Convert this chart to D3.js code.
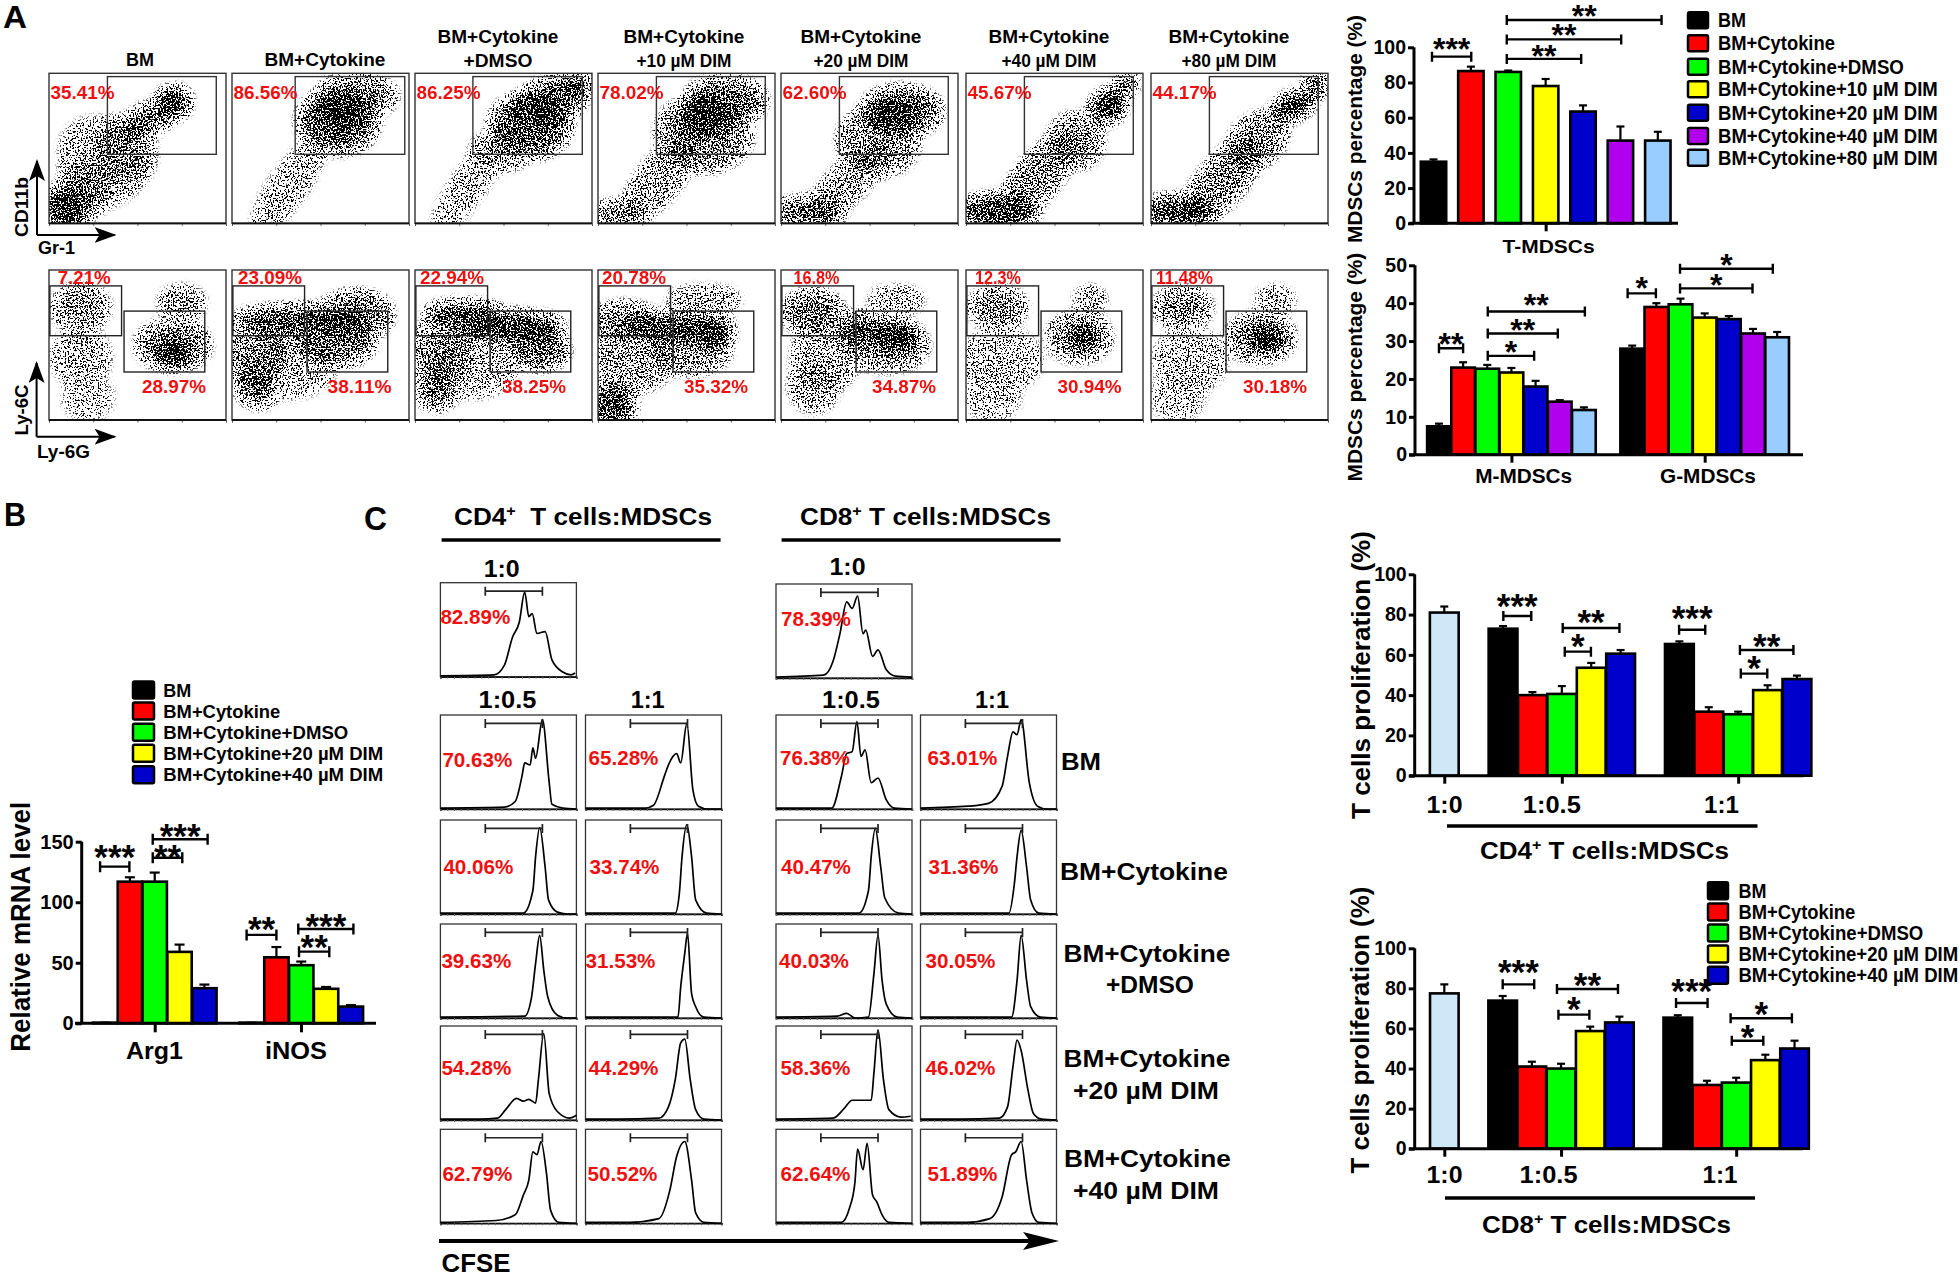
<!DOCTYPE html>
<html><head><meta charset="utf-8">
<script src="https://d3js.org/d3.v7.min.js"></script>
<style>html,body{margin:0;background:#fff}svg{display:block}text{font-family:"Liberation Sans",Arial,sans-serif;font-weight:700}</style>
</head><body><svg id="c" width="1960" height="1276"></svg>
<script>
// ---------- series colours / names ----------
const BLACK="#000000",RED="#ff0000",GREEN="#00ff00",YELLOW="#ffff00",BLUE="#0000cc",PURPLE="#b000ee",SKY="#99ccff",PALE="#cfe8f7";
const legendA=["BM","BM+Cytokine","BM+Cytokine+DMSO","BM+Cytokine+10 µM DIM","BM+Cytokine+20 µM DIM","BM+Cytokine+40 µM DIM","BM+Cytokine+80 µM DIM"];
const legendB=["BM","BM+Cytokine","BM+Cytokine+DMSO","BM+Cytokine+20 µM DIM","BM+Cytokine+40 µM DIM"];
const coloursA=[BLACK,RED,GREEN,YELLOW,BLUE,PURPLE,SKY];
const coloursB=[BLACK,RED,GREEN,YELLOW,BLUE];

// ---------- bar values ----------
const tMean=[35,86.5,86,78,63.5,47,47];
const tTop=[36.3,89,86.8,82,67,55,52];
const mMean=[7.5,23,22.7,21.7,18,14,11.8];
const mTop=[8.2,24.4,23.7,22.9,19.5,14.4,12.5];
const gMean=[28,39,39.7,36.2,35.8,32,31];
const gTop=[28.8,40,41.2,37.3,36.6,33.2,32.4];
const arg1Mean=[0.5,117,117,59,29];
const arg1Top=[0.5,120.6,124.5,65,32];
const inosMean=[0.5,54.5,48,28.5,13.8];
const inosTop=[0.5,63,51,30,15];
const cd4Zero=[81],cd4ZeroTop=[84];
const cd4Half=[73,40,40.6,53.6,60.6],cd4HalfTop=[74.3,41.5,44.5,56,62.4];
const cd4One=[65.4,31.8,30.5,42.5,48],cd4OneTop=[66.7,34,31.8,44.9,49.7];
const cd8Zero=[77.5],cd8ZeroTop=[82];
const cd8Half=[73.9,41,40,58.7,63],cd8HalfTop=[76.2,43.4,42.4,60.9,65.9];
const cd8One=[65.4,31.8,33,44.2,50],cd8OneTop=[66.6,33.9,35.4,46.9,53.9];

// significance brackets: [from bar slot, to bar slot, value height, stars, star lift]
const tSig=[[-0.04,1.01,94.7,"***",11.7],[1.96,3.95,93.4,"**",6.7],[1.96,5.02,104.5,"**",7.7],[1.96,6.1,115.5,"**",7.7]];
const mgSig=[[0,1,28.1,"**",8.3],[2.02,3.94,26.1,"*",8],[2.02,4.92,32,"**",7.7],[2.02,6.04,37.8,"**",10],[7.81,8.98,42.6,"*",9.3],[9.98,12.98,43.9,"*",7.3],[9.98,13.82,49.1,"*",7.7]];
const mrnaSig=[[-0.2,0.98,129.4,"***",14],[1.92,3.11,136.8,"**",5],[1.92,4.13,152,"***",7.7],[5.7,6.9,73,"**",10],[7.81,9.03,59.2,"**",9],[7.78,10,77.9,"***",7.3]];
const cd4Sig=[[2.01,2.96,79.3,"***",14.3],[4.03,5.96,73.3,"**",9.7],[4.1,4.99,61.6,"*",9.3],[7.99,8.88,72.5,"***",15.7],[10.06,11.88,62.4,"**",8.3],[10.09,10.99,50.7,"*",9.3]];
const cd8Sig=[[2,3.08,82,"***",16],[3.86,5.95,79.7,"**",8.3],[3.91,4.97,66.9,"*",9.7],[7.94,9.02,72.7,"***",15.7],[9.81,11.91,65.1,"*",8.3],[9.85,10.93,53.9,"*",7.3]];

// ---------- panel A gate percentages ----------
const flowTitles=[["BM"],["BM+Cytokine"],["BM+Cytokine","+DMSO"],["BM+Cytokine","+10 µM DIM"],["BM+Cytokine","+20 µM DIM"],["BM+Cytokine","+40 µM DIM"],["BM+Cytokine","+80 µM DIM"]];
const tGate=["35.41%","86.56%","86.25%","78.02%","62.60%","45.67%","44.17%"];
const mGate=["7.21%","23.09%","22.94%","20.78%","16.8%","12.3%","11.48%"];
const gGate=["28.97%","38.11%","38.25%","35.32%","34.87%","30.94%","30.18%"];

// Dot-plot clouds: estimated by eye as density regions, NOT individual events.
// [x%, y%, x radius, y radius, tilt, density]. The speckle is a visual texture over these.
const cloudsTop=[
 [[10,10,13,14,0,.85],[22,25,14,18,-40,.42],[42,48,16,22,-30,.42],[55,68,14,9,-25,.62],[70,80,9,9,-30,.95],[30,42,22,30,-45,.22]],
 [[60,68,22,20,0,.62],[62,72,12,12,0,.85],[70,85,22,12,0,.55],[32,25,32,11,-55,.26]],
 [[65,65,22,20,0,.65],[75,80,22,14,-20,.65],[90,92,9,7,0,.65],[30,25,30,10,-55,.26],[48,48,16,12,0,.32]],
 [[60,70,14,12,0,.85],[72,82,22,14,0,.6],[60,60,26,24,0,.5],[12,6,16,7,0,.55],[35,30,28,13,-50,.36]],
 [[63,72,13,10,0,.85],[68,75,22,15,0,.6],[55,55,22,22,0,.42],[15,7,20,9,0,.6],[38,28,32,11,-45,.4]],
 [[80,78,10,9,-40,.95],[90,92,6,5,-40,.8],[62,55,14,17,-40,.45],[18,8,22,10,0,.8],[40,30,32,13,-50,.48]],
 [[80,78,12,7,-25,.95],[93,92,6,6,-40,.8],[60,55,18,15,-40,.45],[15,8,20,9,0,.8],[40,28,30,14,-50,.48]]];
const cloudsBottom=[
 [[70,45,9,9,0,1],[70,50,20,15,0,.5],[75,78,12,10,0,.38],[18,75,15,14,0,.42],[18,42,16,18,0,.26],[22,15,14,15,0,.16]],
 [[40,67,38,8,0,.72],[58,52,22,15,0,.55],[70,70,20,15,0,.5],[15,45,18,20,0,.42],[13,22,9,14,-50,.65],[32,38,26,22,0,.26]],
 [[28,70,22,8,0,.72],[55,62,28,9,0,.8],[70,47,16,12,0,.6],[15,45,18,20,0,.42],[12,20,10,12,-50,.6],[32,38,26,22,0,.26]],
 [[15,65,18,12,0,.52],[45,62,30,9,0,.72],[65,58,10,9,0,.85],[52,47,22,15,0,.45],[20,40,22,20,0,.36],[8,10,12,14,-50,.75],[60,80,20,8,0,.32]],
 [[18,72,16,13,0,.55],[45,60,14,10,0,.68],[66,55,11,10,0,.85],[60,50,22,16,0,.45],[25,42,18,22,0,.3],[18,22,12,16,-30,.34],[65,80,15,8,0,.28]],
 [[18,75,15,12,0,.5],[66,55,7,7,0,1],[64,55,17,15,0,.45],[70,80,8,8,0,.3],[20,40,22,20,0,.24],[15,15,15,15,0,.18]],
 [[18,75,15,12,0,.5],[65,55,8,8,0,1],[62,55,18,15,0,.5],[70,80,10,8,0,.3],[22,40,20,20,0,.24],[15,15,15,15,0,.16]]];

// ---------- panel C histograms: [x%, y%] outlines ----------
const h10cd4=[[0,1],[39.5,2],[47,12],[53,42],[58,58],[62,90],[65,64],[67.5,67],[71,46],[77,48],[82,18],[90,5],[96,2],[99,4]];
const h10cd8=[[0,1],[35,3],[42,18],[47,47],[52,81],[56,74],[60,87],[64,47],[66,51],[71,23],[75,30],[81,9],[88,2],[100,1]];
const hBM=[
 [[0,1],[47,2],[55,8],[60,35],[62,49],[66,47],[68,65],[70,54],[75,95],[80,28],[82,5],[90,1],[100,0]],
 [[0,1],[44,1],[50,4],[58,35],[61,47],[67,59],[70,49],[74.5,91],[79,20],[83,3],[90,0],[100,0]],
 [[0,1],[41,1],[48,34],[52,59],[56,61],[59.5,93],[62.5,56],[65.5,63],[70,28],[75,33],[81,10],[87,1],[100,0]],
 [[0,1],[35,3],[50,6],[60,24],[64,56],[68,82],[71,79],[74,95],[80,28],[86,3],[93,0],[100,0]]];
const hCyt=[
 [[0,1],[61,1],[68,25],[70,61],[73,92],[77,50],[79.5,15],[86,2],[93,0],[100,0]],
 [[0,1],[66,1],[69,22],[71,61],[74.5,95],[78,61],[81,15],[89,1],[100,0]],
 [[0,1],[61,1],[68,25],[70,61],[73,91],[77,50],[80,17],[90,1],[100,0]],
 [[0,1],[65,1],[69,32],[71,61],[74,89],[78,50],[81,15],[87,1],[100,0]]];
const hDmso=[
 [[0,1],[62,2],[67,22],[70,58],[73,88],[76,51],[79,22],[86,3],[93,0],[100,0]],
 [[0,1],[68,1],[70,33],[73,69],[75,90],[78,26],[81,12],[87,1],[100,0]],
 [[0,1],[45,2],[52,5],[58,0],[68,1],[72,47],[75,88],[78,40],[81,15],[89,1],[100,0]],
 [[0,1],[67,1],[71,40],[74,88],[78,40],[81,12],[88,1],[100,0]]];
const hDim20=[
 [[0,1],[29,1],[42,2],[48,11],[56,23],[61,20],[65,22],[70,18],[72,42],[76,92],[80,28],[86,9],[95,2],[100,5]],
 [[0,1],[23,1],[54,2],[61,14],[66,43],[70,82],[73,86],[77,43],[81,11],[87,1],[100,0]],
 [[0,1],[42,2],[50,12],[56,21],[65,21],[70,21],[72,50],[75,96],[79,43],[83,11],[92,3],[99,4]],
 [[0,1],[29,1],[58,2],[64,14],[68,57],[71,85],[74,74],[79,32],[83,7],[89,1],[100,0]]];
const hDim40=[
 [[0,1],[41,3],[55,9],[61,30],[65,46],[68,76],[71,73],[74,87],[78,53],[81,14],[87,1],[100,0]],
 [[0,1],[32,1],[54,5],[62,35],[67,71],[73,87],[78,46],[81,11],[87,1],[100,0]],
 [[0,1],[48,1],[54,16],[58,43],[60,79],[64,57],[67,85],[71,30],[74,23],[78,9],[83,1],[100,0]],
 [[0,1],[34,1],[51,5],[60,28],[67,73],[70,76],[74,87],[78,46],[82,11],[87,1],[100,0]]];
const pct10=["82.89%","78.39%"];
const pctBM=["70.63%","65.28%","76.38%","63.01%"];
const pctCyt=["40.06%","33.74%","40.47%","31.36%"];
const pctDmso=["39.63%","31.53%","40.03%","30.05%"];
const pctDim20=["54.28%","44.29%","58.36%","46.02%"];
const pctDim40=["62.79%","50.52%","62.64%","51.89%"];

// ---------- helpers ----------
const svg=d3.select("#c");
const defs=svg.append("defs");
function T(parent,x,y,str,o={}){
  const g=parent.append("g").attr("transform",`translate(${x},${y})${o.rotate?` rotate(${o.rotate})`:""}`);
  const size=o.size||18;
  const t=g.append("text").attr("font-size",size).attr("fill",o.fill||"#000").attr("text-anchor","start");
  if(Array.isArray(str)){
    str.forEach((p,i)=>{
      if(typeof p==="object"){t.append("tspan").attr("font-size",size*.62).attr("dy",-size*.36).text(p.s);}
      else{t.append("tspan").attr("dy",i?size*.36:0).style("white-space","pre").text(p);}
    });
  } else t.text(str);
  const len=t.node().getComputedTextLength();
  const s=o.w?o.w/len:1, anchor=o.anchor||"start";
  const dx=anchor==="middle"?-len*s/2:anchor==="end"?-len*s:0;
  t.attr("transform",`translate(${dx},0) scale(${s},1)`);
  return t;
}
function legend(items,colors,x0,textX,ys,w,h,widths,size){
  const g=svg.append("g");
  g.selectAll("rect").data(items).join("rect").attr("x",x0).attr("y",(d,i)=>ys[i]-h/2).attr("width",w).attr("height",h)
    .attr("rx",1.5).attr("fill",(d,i)=>colors[i]).attr("stroke","#000").attr("stroke-width",2.5);
  items.forEach((d,i)=>T(g,textX,ys[i]+size*.36,d,{size,w:widths[i]}));
}
function barChart(cfg){
  const g=svg.append("g");
  const x=d3.scaleLinear().domain(cfg.slots).range(cfg.xr);
  const y=d3.scaleLinear().domain(cfg.yd).range(cfg.yr);
  const step=x(1)-x(0), bw=step*cfg.bw;
  const capW=cfg.cap||8;
  const bars=cfg.bars;
  g.selectAll(".eb").data(bars).join("line").attr("x1",d=>x(d.slot)).attr("x2",d=>x(d.slot))
    .attr("y1",d=>y(d.value)).attr("y2",d=>y(d.top)).attr("stroke","#000").attr("stroke-width",2.2);
  g.selectAll(".cap").data(bars).join("line").attr("x1",d=>x(d.slot)-capW/2).attr("x2",d=>x(d.slot)+capW/2)
    .attr("y1",d=>y(d.top)).attr("y2",d=>y(d.top)).attr("stroke","#000").attr("stroke-width",2.2);
  g.selectAll(".bar").data(bars).join("rect").attr("x",d=>x(d.slot)-bw/2).attr("width",bw)
    .attr("y",d=>y(d.value)).attr("height",d=>y(0)-y(d.value)).attr("fill",d=>d.colour).attr("stroke","#000").attr("stroke-width",2.6);
  const ax=g.append("g").attr("transform",`translate(${cfg.axisX},0)`).call(d3.axisLeft(y).tickValues(cfg.ticks).tickSize(6).tickPadding(2));
  ax.selectAll("path,line").attr("stroke","#000").attr("stroke-width",3);
  ax.selectAll("text").attr("font-size",cfg.tickSize||19.5).attr("fill","#000").attr("font-family",'"Liberation Sans"').attr("font-weight",700);
  ax.select(".domain").attr("d",`M0,${y(cfg.yd[0])}V${y(cfg.yd[1])}`);
  const bx=g.append("g").attr("transform",`translate(0,${y(0)})`).call(d3.axisBottom(x).tickValues(cfg.xticks).tickSize(cfg.tick||8).tickFormat(""));
  bx.selectAll("path,line").attr("stroke","#000").attr("stroke-width",3);
  bx.select(".domain").attr("d",`M${cfg.xr[0]},0H${cfg.xr[1]}`);
  const sz=cfg.star||32;
  (cfg.sig||[]).forEach(([a,b,v,s,lift])=>{
    const p=g.append("g").attr("fill","none").attr("stroke","#000").attr("stroke-width",2.4);
    const h=cfg.brk||5;
    p.append("path").attr("d",`M${x(a)},${y(v)-h}V${y(v)+h}M${x(a)},${y(v)}H${x(b)}M${x(b)},${y(v)-h}V${y(v)+h}`);
    g.append("text").attr("x",(x(a)+x(b))/2).attr("y",y(v)-lift+sz*.46).attr("text-anchor","middle").attr("font-size",sz).text(s);
  });
  return g;
}
function seq(vals,tops,start,cols){return vals.map((v,i)=>({slot:start+i,value:v,top:tops[i],colour:cols[i]}));}

// ---------- panel A flow plots ----------
const flowX=[49,232,415,598,781,966,1151], flowW=177, flowH=150;
const flowTitleCx=[140,325,498,684,861,1049,1229];
const titleW={"BM":28,"BM+Cytokine":121,"+DMSO":69,"+10 µM DIM":95,"+20 µM DIM":95,"+40 µM DIM":95,"+80 µM DIM":95};
const topYs=[73.3,270];
const gateTop=[[.33,.945],[.357,.976],[.327,.945],[.33,.945],[.33,.945],[.33,.945],[.33,.945]];
function flowPanel(i,row,clouds){
  const px=flowX[i],py=topYs[row];
  const sx=d3.scaleLinear().domain([0,100]).range([px,px+flowW]);
  const sy=d3.scaleLinear().domain([0,100]).range([py+flowH,py]);
  const id=`sp${row}_${i}`;
  const f=defs.append("filter").attr("id",id).attr("filterUnits","userSpaceOnUse").attr("x",px).attr("y",py).attr("width",flowW).attr("height",flowH).attr("color-interpolation-filters","sRGB");
  f.append("feGaussianBlur").attr("in","SourceAlpha").attr("stdDeviation",6).attr("result","d");
  f.append("feTurbulence").attr("type","fractalNoise").attr("baseFrequency",.6).attr("numOctaves",2).attr("seed",7+i+row*9).attr("result","n");
  f.append("feColorMatrix").attr("in","n").attr("type","matrix").attr("values","0 0 0 0 0  0 0 0 0 0  0 0 0 0 0  0 0 0 4 -1.5").attr("result","na");
  f.append("feComposite").attr("in","d").attr("in2","na").attr("operator","arithmetic").attr("k1",0).attr("k2",1.05).attr("k3",1).attr("k4",-1).attr("result","m");
  const ct=f.append("feComponentTransfer").attr("in","m");
  ct.append("feFuncA").attr("type","linear").attr("slope",9).attr("intercept",-.1);
  const cg=defs.append("clipPath").attr("id","c"+id); cg.append("rect").attr("x",px).attr("y",py).attr("width",flowW).attr("height",flowH);
  const g=svg.append("g");
  const cl=g.append("g").attr("clip-path",`url(#c${id})`).append("g").attr("filter",`url(#${id})`);
  cl.selectAll("ellipse").data(clouds).join("ellipse")
    .attr("cx",d=>sx(d[0])).attr("cy",d=>sy(d[1]))
    .attr("rx",d=>sx(d[2])-sx(0)).attr("ry",d=>sy(0)-sy(d[3]))
    .attr("transform",d=>`rotate(${d[4]},${sx(d[0])},${sy(d[1])})`)
    .attr("fill","#000").attr("fill-opacity",d=>d[5]);
  g.append("rect").attr("x",px).attr("y",py).attr("width",flowW).attr("height",flowH).attr("fill","none").attr("stroke","#333").attr("stroke-width",1.4);
  const tx=g.append("g").attr("transform",`translate(0,${py+flowH})`).call(d3.axisBottom(sx).tickValues([0,25,50,75,100]).tickSize(2.5).tickFormat(""));
  tx.selectAll("path,line").attr("stroke","#555");
  g.append("line").attr("x1",px).attr("x2",px+flowW).attr("y1",py+flowH).attr("y2",py+flowH).attr("stroke","#111").attr("stroke-width",1.8);
  return {g,sx,sy};
}
flowX.forEach((x0,i)=>{
  const lines=flowTitles[i];
  if(lines.length===1)T(svg,flowTitleCx[i],66,lines[0],{size:18.5,w:titleW[lines[0]],anchor:"middle"});
  else{T(svg,flowTitleCx[i],43,lines[0],{size:18.5,w:titleW[lines[0]],anchor:"middle"});
       T(svg,flowTitleCx[i],66.5,lines[1],{size:18.5,w:titleW[lines[1]],anchor:"middle"});}
  const a=flowPanel(i,0,cloudsTop[i]);
  a.g.append("rect").attr("x",a.sx(gateTop[i][0]*100)).attr("width",a.sx(gateTop[i][1]*100)-a.sx(gateTop[i][0]*100))
    .attr("y",a.sy(97.8)).attr("height",a.sy(46)-a.sy(97.8)).attr("fill","none").attr("stroke","#333").attr("stroke-width",1.4);
  T(a.g,x0+1.5,99.3,tGate[i],{size:18.6,fill:"#f01010",w:64});
  const b=flowPanel(i,1,cloudsBottom[i]);
  [[0.5,41,56.2,89.4],[42.4,88,32,72.6]].forEach(([x1,x2,y1,y2])=>{
    b.g.append("rect").attr("x",b.sx(x1)).attr("width",b.sx(x2)-b.sx(x1)).attr("y",b.sy(y2)).attr("height",b.sy(y1)-b.sy(y2))
      .attr("fill","none").attr("stroke","#222").attr("stroke-width",1.4);
  });
});
const mGateX=[57.7,238,420,602,793.5,975,1156], mGateW=[53,64,64,64,46,46,57];
const gGateX=[142,327.5,502,684,872,1057.5,1243];
flowX.forEach((x0,i)=>{
  T(svg,mGateX[i],284.3,mGate[i],{size:18.6,fill:"#f01010",w:mGateW[i]});
  T(svg,gGateX[i],392.7,gGate[i],{size:18.6,fill:"#f01010",w:64});
});
defs.append("marker").attr("id","ah").attr("viewBox","0 0 22 16").attr("refX",20).attr("refY",8).attr("markerWidth",22).attr("markerHeight",16).attr("markerUnits","userSpaceOnUse").attr("orient","auto")
  .append("path").attr("d","M0,0L22,8L0,16L5,8Z").attr("fill","#000");
function arrows(x,y,top,right){
  svg.append("path").attr("d",`M${x},${y}V${top}`).attr("stroke","#000").attr("stroke-width",2).attr("fill","none").attr("marker-end","url(#ah)");
  svg.append("path").attr("d",`M${x},${y}H${right}`).attr("stroke","#000").attr("stroke-width",2).attr("fill","none").attr("marker-end","url(#ah)");
}
arrows(37,235,161,114.5); arrows(36.6,436.7,363,114.5);
T(svg,28,207,"CD11b",{size:18.5,rotate:-90,w:60,anchor:"middle"});
T(svg,38,254,"Gr-1",{size:18.5,w:37});
T(svg,28,410,"Ly-6C",{size:18.5,rotate:-90,w:51,anchor:"middle"});
T(svg,37,458,"Ly-6G",{size:18.5,w:53});
T(svg,3,27.5,"A",{size:32,w:24});
T(svg,4,526,"B",{size:34,w:22});
T(svg,364,530,"C",{size:34,w:23});

barChart({slots:[-.655,6.54],xr:[1409,1678],yd:[0,100],yr:[223.3,47.3],axisX:1414,ticks:[0,20,40,60,80,100],xticks:[3],
  bw:.68,bars:seq(tMean,tTop,0,coloursA),sig:tSig});
T(svg,1548.6,253,"T-MDSCs",{size:19,w:92,anchor:"middle"});
barChart({slots:[-1.24,15.07],xr:[1409,1803],yd:[0,50],yr:[454.7,265.3],axisX:1415,ticks:[0,10,20,30,40,50],xticks:[3,11],
  bw:.98,bars:[...seq(mMean,mTop,0,coloursA),...seq(gMean,gTop,8,coloursA)],sig:mgSig});
T(svg,1523.7,483,"M-MDSCs",{size:19.5,w:97,anchor:"middle"});
T(svg,1708,483,"G-MDSCs",{size:19.5,w:96,anchor:"middle"});
T(svg,1361.6,129,"MDSCs percentage (%)",{size:21,rotate:-90,w:228,anchor:"middle"});
T(svg,1361.6,367,"MDSCs percentage (%)",{size:21,rotate:-90,w:229,anchor:"middle"});
legend(legendA,coloursA,1688,1718,[20.3,43.3,66.7,89.3,112.7,136,157.7],20,16,[28,117,186,220,220,220,220],19.5);

barChart({slots:[-1.21,10.91],xr:[75,376],yd:[0,150],yr:[1023.3,841.7],axisX:81.7,ticks:[0,50,100,150],xticks:[2,7.89],tick:9,
  bw:.98,cap:10,star:35,brk:5.5,tickSize:20,bars:[...seq(arg1Mean,arg1Top,0,coloursB),...seq(inosMean,inosTop,5.9,coloursB)],sig:mrnaSig});
T(svg,154.5,1059,"Arg1",{size:24,w:57,anchor:"middle"});
T(svg,296,1059,"iNOS",{size:24,w:62,anchor:"middle"});
T(svg,30,926.7,"Relative mRNA level",{size:27,rotate:-90,w:250,anchor:"middle"});
legend(legendB,coloursB,133,163.3,[690,711,732.3,753.3,774.7],21,17,[28,117,185,220,220],18.5);

const zeroCol=[PALE];
barChart({slots:[-1.2,12.23],xr:[1409,1803.7],yd:[0,100],yr:[775.7,574.3],axisX:1414.7,ticks:[0,20,40,60,80,100],xticks:[0,4,10],
  bw:.98,star:35,bars:[...seq(cd4Zero,cd4ZeroTop,0,zeroCol),...seq(cd4Half,cd4HalfTop,2,coloursB),...seq(cd4One,cd4OneTop,8,coloursB)],sig:cd4Sig});
barChart({slots:[-1.21,12.29],xr:[1409,1803],yd:[0,100],yr:[1148.7,948.3],axisX:1414.7,ticks:[0,20,40,60,80,100],xticks:[0,4,10],
  bw:.98,star:35,bars:[...seq(cd8Zero,cd8ZeroTop,0,zeroCol),...seq(cd8Half,cd8HalfTop,2,coloursB),...seq(cd8One,cd8OneTop,8,coloursB)],sig:cd8Sig});
[[1444.5,1551.8,1721.6,812.7],[1444.5,1548.6,1720,1183]].forEach(r=>{
  T(svg,r[0],r[3],"1:0",{size:23,w:36,anchor:"middle"});
  T(svg,r[1],r[3],"1:0.5",{size:23,w:58,anchor:"middle"});
  T(svg,r[2],r[3],"1:1",{size:23,w:35,anchor:"middle"});
});
function rule(x1,x2,y){svg.append("line").attr("x1",x1).attr("x2",x2).attr("y1",y).attr("y2",y).attr("stroke","#000").attr("stroke-width",3.6);}
rule(1447,1757.5,826); rule(1445,1755,1198);
T(svg,1480,859,["CD4",{s:"+"}," T cells:MDSCs"],{size:24,w:249});
T(svg,1482,1232.7,["CD8",{s:"+"}," T cells:MDSCs"],{size:24,w:249});
T(svg,1369.8,675,"T cells proliferation (%)",{size:26.5,rotate:-90,w:288,anchor:"middle"});
T(svg,1369,1030,"T cells proliferation (%)",{size:26.5,rotate:-90,w:287,anchor:"middle"});
legend(legendB,coloursB,1708,1738.4,[890.7,912,933,954,975.3],20,17,[28,117,185,220,220],19.5);

const colX=[440.4,585.5,776,920.5], histW=136, histH=94;
const rowY=[582.7,715,820,924,1026,1129.3];
function hist(cx,ry,pts,label,labelDx,labelY){
  const x=d3.scaleLinear().domain([0,100]).range([cx,cx+histW]);
  const y=d3.scaleLinear().domain([0,100]).range([ry+histH,ry]);
  const g=svg.append("g");
  g.append("rect").attr("x",cx).attr("y",ry).attr("width",histW).attr("height",histH).attr("fill","#fff").attr("stroke","#333").attr("stroke-width",1.3);
  const ax=g.append("g").attr("transform",`translate(0,${ry+histH})`).call(d3.axisBottom(x).tickValues(d3.range(0,101,5)).tickSize(2).tickFormat(""));
  ax.selectAll("line").attr("stroke","#666");
  ax.select(".domain").attr("stroke","#111").attr("stroke-width",1.6);
  g.append("path").datum(pts).attr("d",d3.line().x(d=>x(d[0])).y(d=>y(d[1])).curve(d3.curveMonotoneX)).attr("fill","none").attr("stroke","#000").attr("stroke-width",1.7);
  g.append("path").attr("d",`M${x(33)},${y(91)-4.5}V${y(91)+4.5}M${x(33)},${y(91)}H${x(75)}M${x(75)},${y(91)-4.5}V${y(91)+4.5}`).attr("fill","none").attr("stroke","#222").attr("stroke-width",1.7);
  T(g,cx+labelDx,labelY,label,{size:20,fill:"#f01010",w:70});
}
hist(colX[0],rowY[0],h10cd4,pct10[0],0,624);
hist(colX[2],rowY[0]+1.3,h10cd8,pct10[1],5,626);
const rowsH=[hBM,hCyt,hDmso,hDim20,hDim40], rowsP=[pctBM,pctCyt,pctDmso,pctDim20,pctDim40];
const labDx=[[2,3,4,7],[3,4,5,8],[1,0,3,5],[1,3,4.5,5],[2,2,4.5,7]];
const labY=[[766.7,765,765,765],[874,874,874,874],[968,968,968,968],[1075,1075,1075,1075],[1181,1181,1181,1181]];
rowsH.forEach((row,r)=>row.forEach((pts,c)=>hist(colX[c],rowY[r+1],pts,rowsP[r][c],labDx[r][c],labY[r][c])));
rule(441.6,720.6,540); rule(781.6,1060.6,540);
T(svg,454,525,["CD4",{s:"+"},"  T cells:MDSCs"],{size:24,w:258});
T(svg,800,525,["CD8",{s:"+"}," T cells:MDSCs"],{size:24,w:251});
T(svg,501.7,576.7,"1:0",{size:23,w:36,anchor:"middle"});
T(svg,847.5,575,"1:0",{size:23,w:36,anchor:"middle"});
[[507.5,"1:0.5",58],[647.7,"1:1",34],[851,"1:0.5",58],[992,"1:1",34]].forEach(d=>T(svg,d[0],707.7,d[1],{size:23,w:d[2],anchor:"middle"}));
const rowLabels=[["BM",1081,770,40],["BM+Cytokine",1144,880,168],["BM+Cytokine",1147,962,167],["+DMSO",1150,993,88],["BM+Cytokine",1147,1067,167],["+20 µM DIM",1146,1099,146],["BM+Cytokine",1147.5,1167,167],["+40 µM DIM",1146,1199,146]];
rowLabels.forEach(d=>T(svg,d[1],d[2],d[0],{size:24,w:d[3],anchor:"middle"}));
svg.append("line").attr("x1",439).attr("x2",1030).attr("y1",1241).attr("y2",1241).attr("stroke","#000").attr("stroke-width",4);
svg.append("path").attr("d","M1023,1232L1059,1241L1023,1250L1030,1241Z").attr("fill","#000");
T(svg,441.6,1271.7,"CFSE",{size:25,w:69});
</script></body></html>
